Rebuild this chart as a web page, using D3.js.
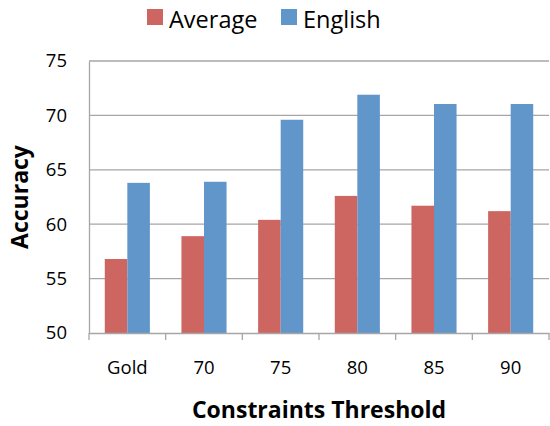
<!DOCTYPE html>
<html>
<head>
<meta charset="utf-8">
<script src="https://cdn.jsdelivr.net/npm/d3@7"></script>
<style>
  body { margin: 0; background: #fff; }
  text { font-family: "Open Sans", sans-serif; fill: #000; }
</style>
</head>
<body>
<svg id="chart" width="550" height="426"></svg>
<script>
const categories = ['Gold', '70', '75', '80', '85', '90'];
const seriesNames = ['Average', 'English'];
const averageValues = [56.8, 58.9, 60.4, 62.6, 61.7, 61.2];
const englishValues = [63.8, 63.9, 69.6, 71.9, 71.05, 71.05];
const yTicks = [50, 55, 60, 65, 70, 75];
const colors = ['#CD6661', '#6096CA'];

const margin = { top: 61, right: 1, bottom: 93, left: 89 };
const width = 550 - margin.left - margin.right;
const height = 426 - margin.top - margin.bottom;

const data = categories.map((c, i) => ({ cat: c, values: [averageValues[i], englishValues[i]] }));

const svg = d3.select('#chart');
const g = svg.append('g').attr('transform', `translate(${margin.left},${margin.top})`);

const x0 = d3.scaleBand().domain(categories).range([0, width]).paddingInner(0).paddingOuter(0);
const x1 = d3.scaleBand().domain(seriesNames).range([0, x0.bandwidth()]).paddingInner(0).paddingOuter(0.7);
const y = d3.scaleLinear().domain([50, 75]).range([height, 0]);
const color = d3.scaleOrdinal().domain(seriesNames).range(colors);

// gridlines
g.append('g')
  .selectAll('line')
  .data(yTicks.slice(1))
  .join('line')
  .attr('x1', 0).attr('x2', width)
  .attr('y1', (d) => y(d)).attr('y2', (d) => y(d))
  .attr('stroke', '#A6A6A6').attr('stroke-width', 1.3);

// bars
g.append('g')
  .selectAll('g')
  .data(data)
  .join('g')
  .attr('transform', (d) => `translate(${x0(d.cat)},0)`)
  .selectAll('rect')
  .data((d) => d.values.map((v, i) => ({ key: seriesNames[i], v })))
  .join('rect')
  .attr('x', (d) => x1(d.key))
  .attr('width', x1.bandwidth())
  .attr('y', (d) => y(d.v))
  .attr('height', (d) => height - y(d.v))
  .attr('fill', (d) => color(d.key));

// y axis
const yAxis = g.append('g')
  .call(d3.axisLeft(y).tickValues(yTicks).tickSize(0).tickPadding(22));
yAxis.select('.domain').attr('stroke', '#A6A6A6').attr('stroke-width', 1.3);
yAxis.selectAll('text').attr('font-size', 18.5);

// x axis
const xAxis = g.append('g')
  .attr('transform', `translate(0,${height})`)
  .call(d3.axisBottom(x0).tickSize(0).tickPadding(28));
xAxis.select('.domain').attr('stroke', '#A6A6A6').attr('stroke-width', 1.3);
xAxis.selectAll('text').attr('font-size', 18.5);

// category boundary ticks
g.append('g')
  .selectAll('line')
  .data(categories.concat(['end']))
  .join('line')
  .attr('x1', (d, i) => i * x0.step())
  .attr('x2', (d, i) => i * x0.step())
  .attr('y1', height).attr('y2', height + 7)
  .attr('stroke', '#A6A6A6').attr('stroke-width', 1.3);

// axis titles
svg.append('text')
  .attr('x', 319)
  .attr('y', 418)
  .attr('text-anchor', 'middle')
  .attr('font-size', 23)
  .attr('font-weight', 'bold')
  .text('Constraints Threshold');

svg.append('text')
  .attr('transform', `translate(28,${margin.top + height / 2}) rotate(-90)`)
  .attr('text-anchor', 'middle')
  .attr('font-size', 23)
  .attr('font-weight', 'bold')
  .text('Accuracy');

// legend
const legendX = [147, 281];
const legend = svg.append('g');
seriesNames.forEach((s, i) => {
  legend.append('rect')
    .attr('x', legendX[i]).attr('y', 9)
    .attr('width', 16).attr('height', 16)
    .attr('fill', colors[i]);
  legend.append('text')
    .attr('x', legendX[i] + 22).attr('y', 28)
    .attr('font-size', 23.5)
    .text(s);
});
</script>
</body>
</html>
